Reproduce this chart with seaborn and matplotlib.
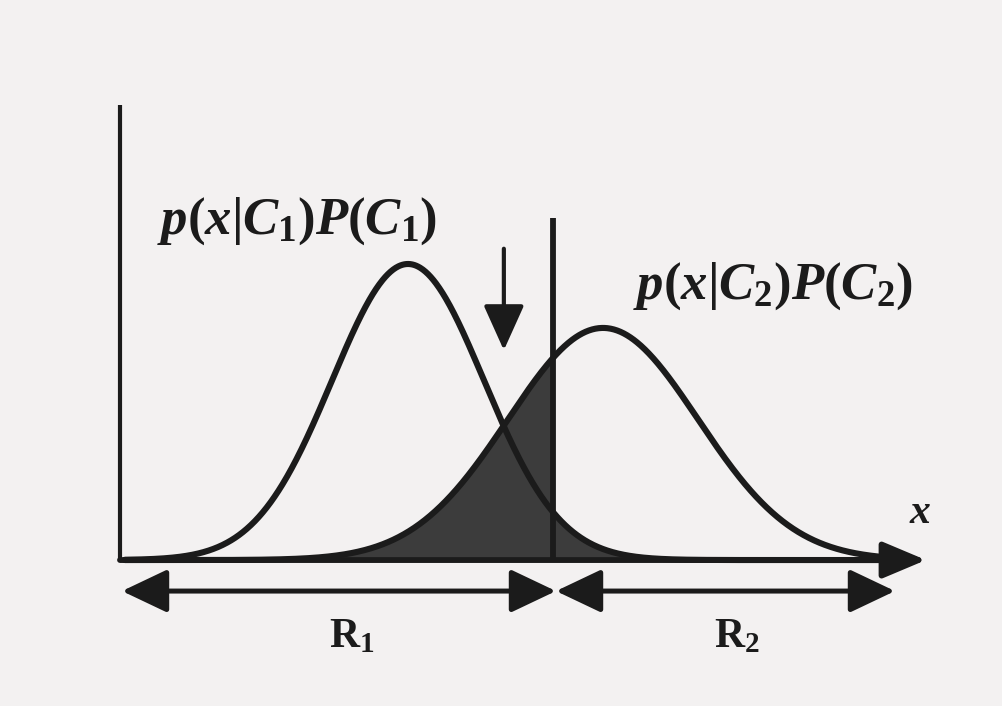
import numpy as np
import pandas as pd
import matplotlib
matplotlib.use("Agg")
import matplotlib.pyplot as plt
import seaborn as sns

# Two class-conditional Gaussians weighted by their priors
classes = ["C1", "C2"]
means = [2.88, 4.83]
sigmas = [0.76, 0.95]
priors = [0.50, 0.49]
decision_boundary = 4.33          # chosen (non-optimal) threshold x-hat
curve_labels = [r"$p(x|C_1)P(C_1)$", r"$p(x|C_2)P(C_2)$"]
region_labels = [r"$\mathrm{R}_1$", r"$\mathrm{R}_2$"]
axis_label = r"$x$"

INK = "#1b1b1b"
SHADE = "#3c3c3c"
PAPER = "#f3f1f1"

sns.set_style("white")
plt.rcParams["font.family"] = ["Liberation Serif", "DejaVu Serif"]
plt.rcParams["mathtext.fontset"] = "custom"
plt.rcParams["mathtext.rm"] = "Liberation Serif:bold"
plt.rcParams["mathtext.it"] = "Liberation Serif:italic:bold"
plt.rcParams["mathtext.bf"] = "Liberation Serif:bold"


def weighted_pdf(x, mu, sd, prior):
    return prior * np.exp(-0.5 * ((x - mu) / sd) ** 2) / (sd * np.sqrt(2 * np.pi))


x = np.linspace(0.05, 7.95, 1200)
frames = []
for c, mu, sd, pr in zip(classes, means, sigmas, priors):
    frames.append(pd.DataFrame({"x": x, "density": weighted_pdf(x, mu, sd, pr), "cls": c}))
df = pd.concat(frames, ignore_index=True)
p1 = df.loc[df.cls == "C1", "density"].to_numpy()
p2 = df.loc[df.cls == "C2", "density"].to_numpy()

# optimal threshold: where the two weighted densities cross
mid = (x > means[0]) & (x < means[1])
x_opt = x[mid][np.argmin(np.abs(p1[mid] - p2[mid]))]

fig = plt.figure(figsize=(10.02, 7.06), dpi=100, facecolor=PAPER)
ax = fig.add_axes([0, 0, 1, 1])
ax.set_facecolor(PAPER)
ax.set_xlim(-1.20, 8.82)
ax.set_ylim(-0.1294, 0.4965)
ax.axis("off")

# misclassification region: C2 mass left of the threshold, C1 mass right of it
err = np.where(x < decision_boundary, p2, p1)
ax.fill_between(x, 0, err, color=SHADE, linewidth=0, zorder=1)

sns.lineplot(data=df, x="x", y="density", hue="cls", palette=[INK, INK],
             linewidth=4.4, legend=False, ax=ax, zorder=3)

# axes drawn by hand as in a textbook sketch
ax.plot([0, 0], [0, 0.403], color=INK, lw=3.0, solid_capstyle="butt", zorder=4)
ax.annotate("", xy=(8.06, 0), xytext=(0, 0),
            arrowprops=dict(arrowstyle="-|>,head_length=1.9,head_width=0.8",
                            mutation_scale=14, color=INK, lw=4.2,
                            shrinkA=0, shrinkB=0), zorder=4)
ax.text(8.0, 0.042, axis_label, fontsize=30, color=INK, ha="center", va="center")

# threshold line
ax.plot([decision_boundary] * 2, [0, 0.303], color=INK, lw=4.2,
        solid_capstyle="butt", zorder=4)

# arrow marking the optimal threshold
ax.annotate("", xy=(x_opt, 0.186), xytext=(x_opt, 0.276),
            arrowprops=dict(arrowstyle="-|>,head_length=2.0,head_width=0.9",
                            mutation_scale=14, color=INK, lw=3.0,
                            shrinkA=0, shrinkB=0), zorder=4)

# decision regions
y_reg = -0.0275
for x0, x1 in [(0.02, decision_boundary + 0.03), (decision_boundary + 0.03, 7.75)]:
    ax.annotate("", xy=(x1, y_reg), xytext=(x0, y_reg),
                arrowprops=dict(arrowstyle="<|-|>,head_length=2.0,head_width=0.95",
                                mutation_scale=14, color=INK, lw=3.6,
                                shrinkA=0, shrinkB=0), zorder=4)
ax.text(2.32, -0.068, region_labels[0], fontsize=30, color=INK, ha="center", va="center")
ax.text(6.17, -0.068, region_labels[1], fontsize=30, color=INK, ha="center", va="center")

# curve labels
ax.text(0.37, 0.300, curve_labels[0], fontsize=38, color=INK, ha="left", va="center")
ax.text(5.13, 0.243, curve_labels[1], fontsize=38, color=INK, ha="left", va="center")

fig.savefig("out.png", dpi=100, facecolor=PAPER)
